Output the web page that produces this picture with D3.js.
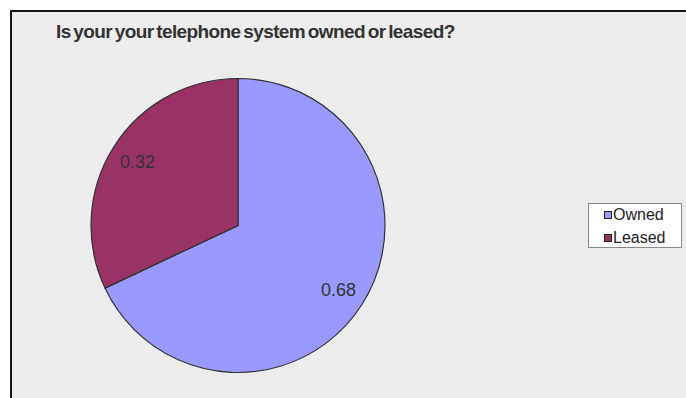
<!DOCTYPE html>
<html>
<head>
<meta charset="utf-8">
<script src="https://cdn.jsdelivr.net/npm/d3@7"></script>
<style>
  body { margin: 0; background: #fff; }
  svg text { font-family: Arial, "Liberation Sans", sans-serif; }
</style>
</head>
<body>
<svg id="canvas" width="686" height="398"></svg>
<script>
const title = 'Is your your telephone system owned or leased?'
const categories = ['Owned', 'Leased']
const values = [0.68, 0.32]
const colors = ['#9999ff', '#993366']

const svg = d3.select('#canvas')

// Background + frame (left and top edges visible)
svg.append('rect')
    .attr('x', 10).attr('y', 10)
    .attr('width', 686).attr('height', 400)
    .attr('fill', '#ececec')
svg.append('path')
    .attr('d', 'M11,398 V11 H686')
    .attr('fill', 'none')
    .attr('stroke', '#111')
    .attr('stroke-width', 2)

// Title
svg.append('text')
    .attr('x', 56).attr('y', 38)
    .attr('font-size', 19)
    .attr('font-weight', 'bold')
    .attr('letter-spacing', -0.6)
    .attr('word-spacing', -2)
    .attr('fill', '#333')
    .text(title)

// Pie
const cx = 238, cy = 225.5, r = 147
const pie = d3.pie().sort(null).value(d => d)
const arc = d3.arc().innerRadius(0).outerRadius(r)
const labelArc = d3.arc().innerRadius(r * 0.81).outerRadius(r * 0.81)

const g = svg.append('g').attr('transform', `translate(${cx},${cy})`)
const arcs = pie(values)

g.selectAll('path')
    .data(arcs)
    .enter()
        .append('path')
        .attr('d', arc)
        .attr('fill', (d, i) => colors[i])
        .attr('stroke', '#333')
        .attr('stroke-width', 1.2)

g.selectAll('text')
    .data(arcs)
    .enter()
        .append('text')
        .attr('transform', d => `translate(${labelArc.centroid(d)})`)
        .attr('text-anchor', 'middle')
        .attr('dy', '0.35em')
        .attr('font-size', 18)
        .attr('fill', '#333')
        .text(d => d.data.toFixed(2))

// Legend
const leg = svg.append('g').attr('transform', 'translate(588,203)')
leg.append('rect')
    .attr('x', 0.5).attr('y', 0.5)
    .attr('width', 93).attr('height', 44)
    .attr('fill', '#fff')
    .attr('stroke', '#888')

const items = leg.selectAll('g.item')
    .data(categories)
    .enter()
        .append('g').classed('item', true)
        .attr('transform', (d, i) => `translate(16,${12 + i * 23})`)

items.append('rect')
    .attr('x', 0.5).attr('y', -3.5)
    .attr('width', 7).attr('height', 7)
    .attr('fill', (d, i) => colors[i])
    .attr('stroke', '#222')
    .attr('stroke-width', 1)

items.append('text')
    .attr('x', 9).attr('y', 5)
    .attr('font-size', 16)
    .attr('fill', '#222')
    .text(d => d)
</script>
</body>
</html>
